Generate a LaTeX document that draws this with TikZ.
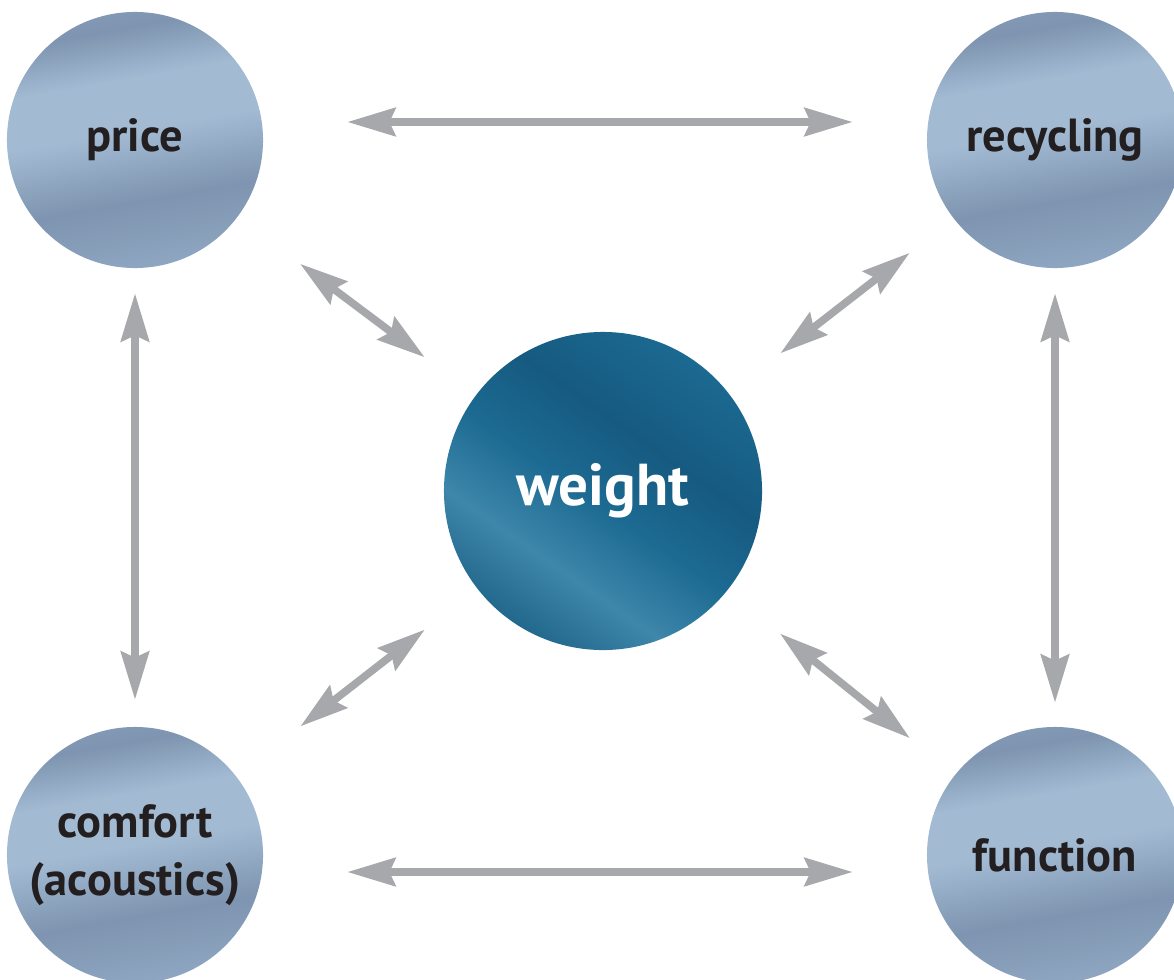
\documentclass[tikz,border=0pt]{standalone}
\usepackage{fontspec}
\setmainfont{PT Sans}
\usetikzlibrary{arrows.meta}
\definecolor{linkgray}{RGB}{167,168,171}
\definecolor{textdark}{RGB}{35,31,32}
\definecolor{silkdark}{RGB}{126,148,176}
\definecolor{silkmid}{RGB}{142,166,193}
\definecolor{silklight}{RGB}{162,187,211}
\definecolor{tealdark}{RGB}{22,90,128}
\definecolor{tealmid}{RGB}{28,106,146}
\definecolor{teallight}{RGB}{62,134,170}
\pgfdeclareverticalshading{silkblue}{100bp}{color(0bp)=(silkdark); color(12bp)=(silklight); color(25bp)=(silkmid); color(38bp)=(silkdark); color(52bp)=(silklight); color(62bp)=(silklight); color(72bp)=(silkdark); color(85bp)=(silkmid); color(100bp)=(silkmid)}
\pgfdeclareverticalshading{silkteal}{100bp}{color(0bp)=(tealmid); color(20bp)=(tealdark); color(36bp)=(teallight); color(48bp)=(tealmid); color(60bp)=(tealdark); color(76bp)=(tealmid); color(90bp)=(tealdark); color(100bp)=(tealmid)}
\def\labelsize{\fontsize{33}{41}\selectfont\bfseries}
\def\coresize{\fontsize{42}{50}\selectfont\bfseries}

\begin{document}
\begin{tikzpicture}[x=0.025cm, y=-0.025cm]
    \tikzstyle{factor}=[circle, minimum size=6.4cm, inner sep=0pt, shading=silkblue, shading angle=10, text=textdark, font=\labelsize, align=center]
    \tikzstyle{core}=[circle, minimum size=7.95cm, inner sep=0pt, shading=silkteal, shading angle=-35, text=white, font=\coresize]
    \tikzstyle{link}=[draw=linkgray, line width=0.19cm, {Stealth[length=1.2cm, width=0.7cm, inset=0.15cm]}-{Stealth[length=1.2cm, width=0.7cm, inset=0.15cm]}]

    \useasboundingbox (0,0) rectangle (1174,979);
    \clip (0,0) rectangle (1174,979);

    \node[factor] (price) at (135,140) {price};
    \node[factor] (recycling) at (1055,140) {recycling};
    \node[factor] (comfort) at (135,855) {comfort\\(acoustics)};
    \node[factor] (function) at (1055,855) {function};
    \node[core] (weight) at (603,491) {weight};

    \draw[link, shorten <=2.1cm, shorten >=1.85cm] ([yshift=0.45cm]price.east) -- ([yshift=0.45cm]recycling.west);
    \draw[link, shorten <=2.1cm, shorten >=1.85cm] ([yshift=-0.425cm]comfort.east) -- ([yshift=-0.425cm]function.west);
    \draw[link, shorten <=0.625cm, shorten >=0.675cm] (price) -- (comfort);
    \draw[link, shorten <=0.625cm, shorten >=0.6cm] (recycling) -- (function);

    \draw[link, shorten <=1.95cm, shorten >=1.59cm] (price) -- (weight);
    \draw[link, shorten <=1.39cm, shorten >=1.63cm] (recycling) -- (weight);
    \draw[link, shorten <=2.03cm, shorten >=1.66cm] (comfort) -- (weight);
    \draw[link, shorten <=1.45cm, shorten >=1.7cm] (function) -- (weight);

\end{tikzpicture}
\end{document}
